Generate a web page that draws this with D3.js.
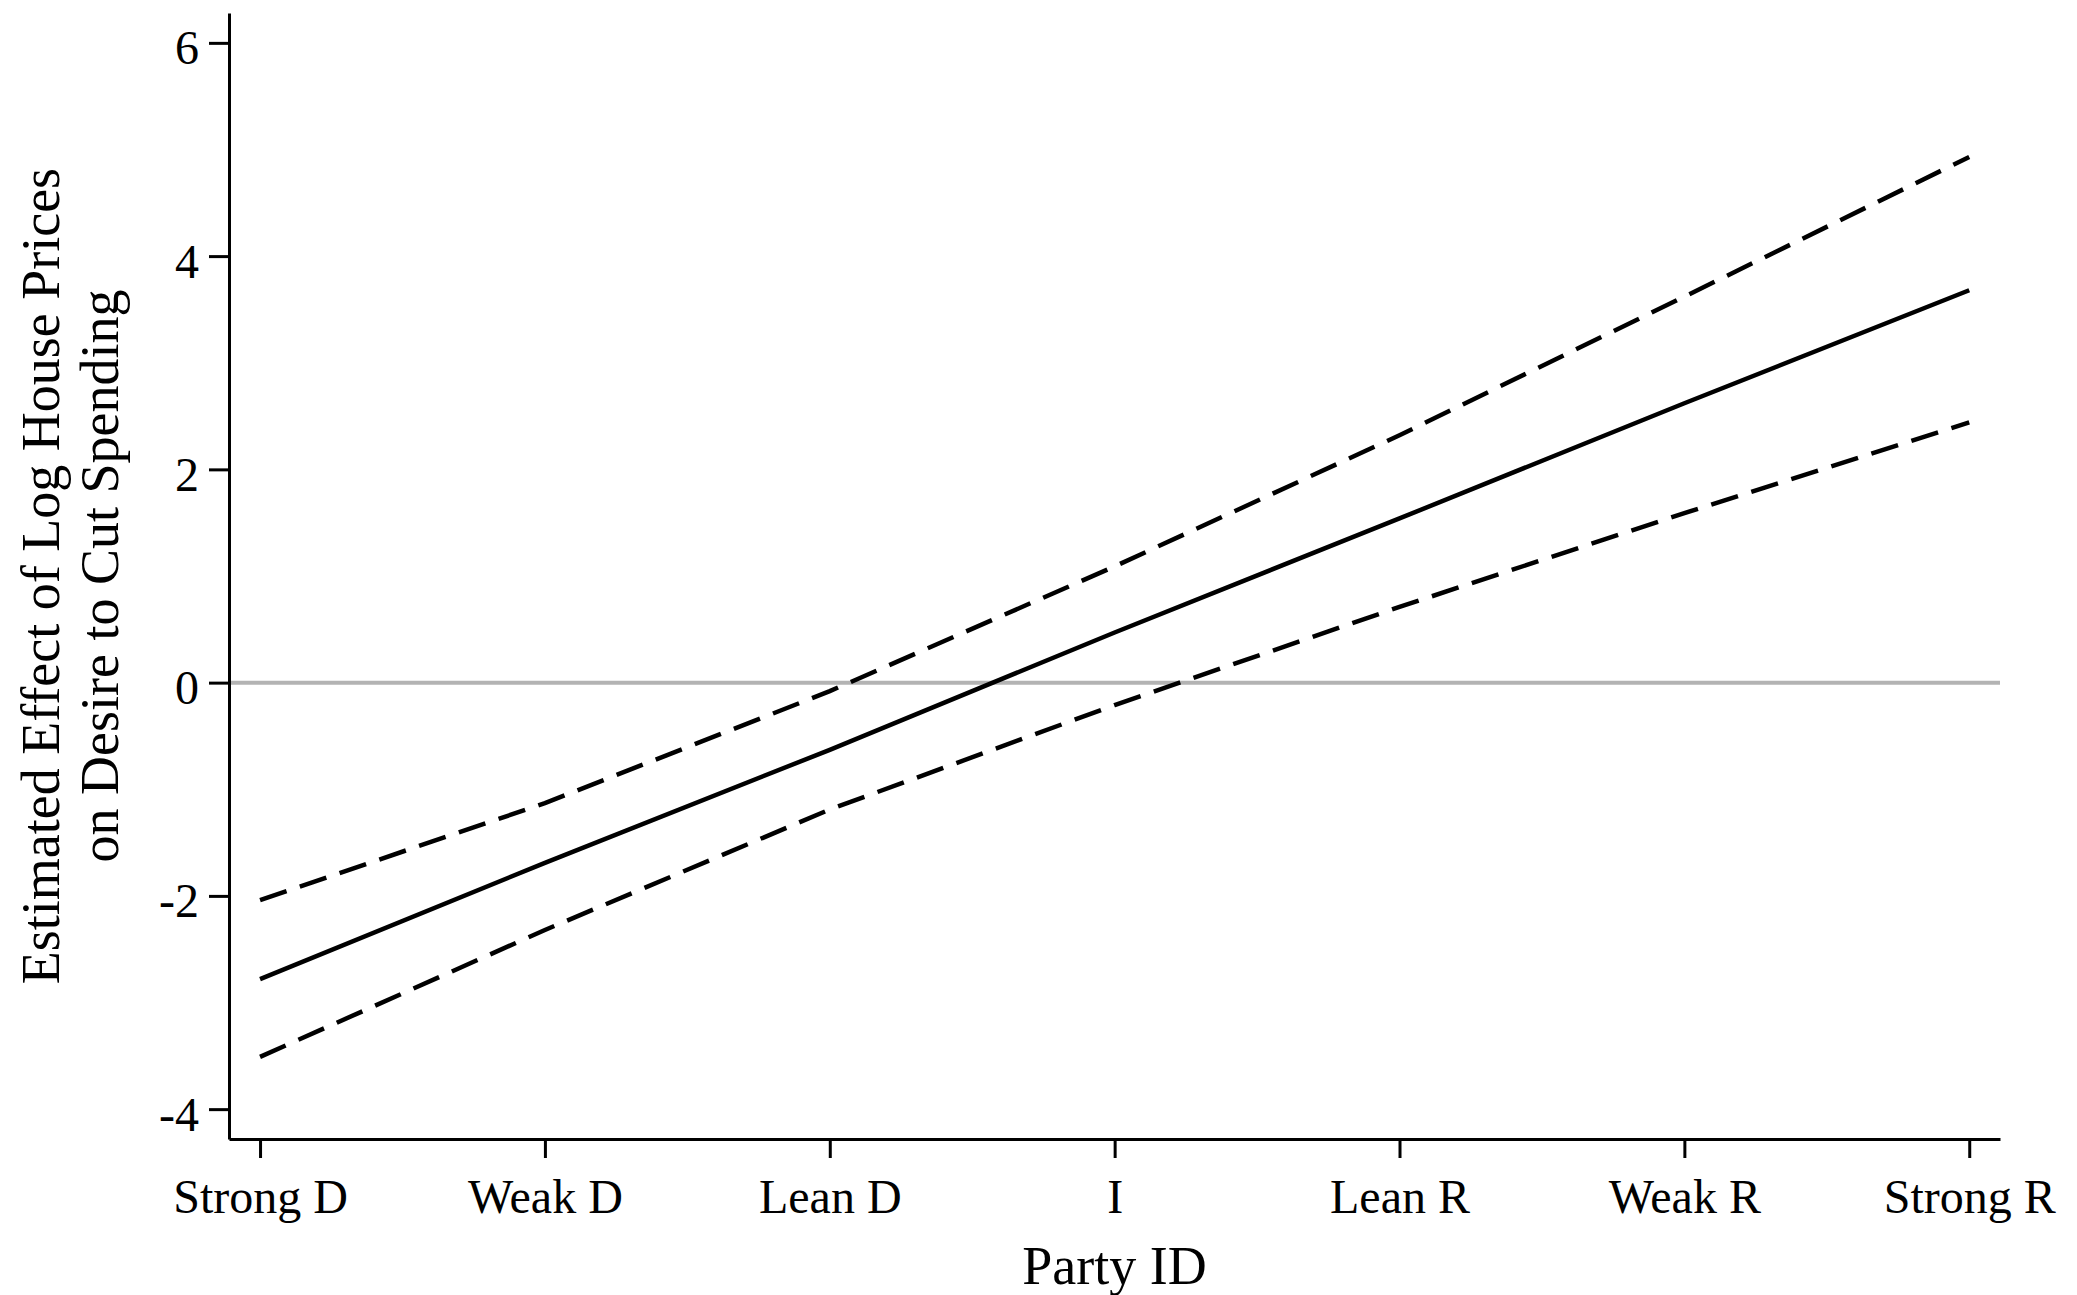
<!DOCTYPE html>
<html>
<head>
<meta charset="utf-8">
<script src="https://cdn.jsdelivr.net/npm/d3@7"></script>
<style>
  html, body { margin: 0; padding: 0; background: #fff; }
  svg { display: block; font-family: "Liberation Serif", "Times New Roman", serif; }
</style>
</head>
<body>
<div id="chart"></div>
<script>
// data
const partyIds = ['Strong D', 'Weak D', 'Lean D', 'I', 'Lean R', 'Weak R', 'Strong R'];
const estimate = [-2.78, -1.69, -0.63, 0.47, 1.54, 2.62, 3.68];
const upperCI = [-2.04, -1.13, -0.08, 1.09, 2.32, 3.62, 4.93];
const lowerCI = [-3.51, -2.32, -1.19, -0.21, 0.71, 1.59, 2.44];
const yTicks = [-4, -2, 0, 2, 4, 6];

// settings
const width = 2077;
const height = 1295;
const plot = { left: 229, right: 2000, top: 13, bottom: 1139 };

const svg = d3.select('#chart')
  .append('svg')
  .attr('width', width)
  .attr('height', height)
  .attr('viewBox', `0 0 ${width} ${height}`);

// the axes run a little past the first and last tick
const x = d3.scaleLinear()
  .domain([-0.109, partyIds.length - 1 + 0.108])
  .range([plot.left, plot.right]);

const y = d3.scaleLinear()
  .domain([-4.28, 6.28])
  .range([plot.bottom, plot.top]);

// zero reference line
svg.append('line')
  .attr('x1', plot.left)
  .attr('x2', plot.right)
  .attr('y1', y(0))
  .attr('y2', y(0))
  .attr('stroke', '#b3b3b3')
  .attr('stroke-width', 4);

const line = d3.line()
  .x((d, i) => x(i))
  .y(d => y(d));

const series = [
  { values: upperCI, dash: '28,14' },
  { values: lowerCI, dash: '28,14' },
  { values: estimate, dash: null }
];

svg.append('g')
  .attr('fill', 'none')
  .attr('stroke', '#000')
  .attr('stroke-width', 4.5)
  .selectAll('path')
  .data(series)
  .join('path')
  .attr('d', d => line(d.values))
  .attr('stroke-dasharray', d => d.dash);

// axes
const xAxis = svg.append('g')
  .attr('transform', `translate(0,${plot.bottom})`)
  .call(d3.axisBottom(x)
    .tickValues(d3.range(partyIds.length))
    .tickFormat(i => partyIds[i])
    .tickSize(19)
    .tickSizeOuter(0));

const yAxis = svg.append('g')
  .attr('transform', `translate(${plot.left},0)`)
  .call(d3.axisLeft(y)
    .tickValues(yTicks)
    .tickFormat(d => d)
    .tickSize(20)
    .tickSizeOuter(0));

[xAxis, yAxis].forEach(g => {
  g.attr('font-family', null).attr('font-size', null);
  g.select('.domain').attr('stroke', '#000').attr('stroke-width', 3);
  g.selectAll('.tick line').attr('stroke', '#000').attr('stroke-width', 3);
  g.selectAll('.tick text')
    .attr('fill', '#000')
    .style('font-size', '48px');
});

xAxis.selectAll('.tick text')
  .attr('y', 74)
  .attr('dy', null);

yAxis.selectAll('.tick text')
  .attr('x', -30)
  .attr('dy', 21);

// titles
svg.append('text')
  .attr('x', (plot.left + plot.right) / 2)
  .attr('y', 1284)
  .attr('text-anchor', 'middle')
  .style('font-size', '54px')
  .text('Party ID');

const yTitle = svg.append('text')
  .attr('transform', `translate(0,${(plot.top + plot.bottom) / 2}) rotate(-90)`)
  .attr('text-anchor', 'middle')
  .style('font-size', '54px');

yTitle.append('tspan')
  .attr('x', 0)
  .attr('y', 59)
  .text('Estimated Effect of Log House Prices');

yTitle.append('tspan')
  .attr('x', 0)
  .attr('y', 118)
  .text('on Desire to Cut Spending');
</script>
</body>
</html>
